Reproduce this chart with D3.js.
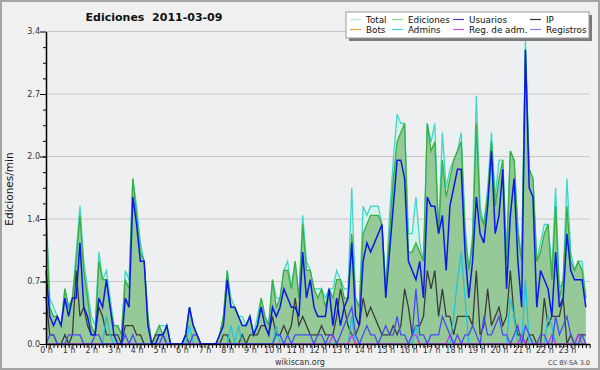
<!DOCTYPE html>
<html><head><meta charset="utf-8">
<script src="https://cdn.jsdelivr.net/npm/d3@7"></script>
<style>html,body{margin:0;padding:0;background:#f0f0f0;} svg{display:block;}</style>
</head><body><svg id="c" width="600" height="370"></svg>
<script>
// ---- data (edits per minute, 10-minute buckets, 144 per day) ----
const chartTitle = "Ediciones  2011-03-09";
const yLabel = "Ediciones/min";
const hourLabels = d3.range(24).map(h => h + " h");
const yTickValues = [0, 0.68, 1.36, 2.04, 2.72, 3.4];
const seriesNames = ["Total","Ediciones","Usuarios","IP","Bots","Admins","Reg. de adm.","Registros"];

const total = [1.5,0.5,0.4,0.3,0.2,0.6,0.4,0.5,1.0,1.5,0.9,0.6,0.3,0.2,1.0,0.7,0.8,0.5,0.2,0.2,
0.1,0.8,0.7,1.8,1.5,1.1,0.9,0.3,0,0.1,0.2,0.2,0.2,0,0,0,0,0.1,0.4,0.2,
0.1,0,0,0,0,0,0.1,0.3,0.8,0.5,0.4,0.3,0.3,0.2,0.3,0.1,0.3,0.5,0.3,0.2,
0.7,0.5,0.5,0.8,0.9,0.6,0.9,0.5,1.4,0.9,0.8,0.6,0.6,0.6,0.5,0.6,0.6,0.8,0.7,0.6,
0.6,1.7,0.5,0.4,1.5,1.4,1.5,1.5,1.5,1.3,0.6,1.4,2.0,2.5,2.4,2.4,1.2,1.2,1.6,1.1,
0.9,2.4,2.2,2.4,1.2,2.3,1.7,1.9,2.0,2.1,2.3,1.3,0.8,1.2,2.7,1.5,1.3,1.7,2.3,1.6,
2.0,2.0,1.0,2.1,2.0,1.3,0.9,3.3,1.9,1.8,0.9,1.1,1.3,1.3,0.8,1.7,0.6,0.7,1.8,1.0,
0.8,0.9,0.9,0.5];
const ediciones = [1.4,0.4,0.3,0.3,0.2,0.6,0.4,0.5,0.9,1.4,0.8,0.5,0.2,0.1,0.9,0.7,0.7,0.4,0.2,0.2,
0.1,0.7,0.6,1.8,1.4,1.0,0.9,0.3,0,0.1,0.2,0.1,0.2,0,0,0,0,0.1,0.4,0.2,
0.1,0,0,0,0,0,0.1,0.3,0.8,0.4,0.4,0.3,0.2,0.2,0.3,0.1,0.2,0.5,0.3,0.2,
0.7,0.4,0.5,0.8,0.8,0.6,0.9,0.5,1.3,0.8,0.8,0.6,0.5,0.6,0.4,0.6,0.5,0.7,0.7,0.5,
0.5,1.2,0.5,0.4,1.2,1.3,1.4,1.4,1.4,1.3,0.6,1.2,1.8,2.2,2.3,2.4,1.0,1.0,1.1,1.0,
0.9,2.4,2.1,2.2,1.2,2.0,1.6,1.8,2.0,2.1,2.2,1.2,0.8,1.1,2.4,1.4,1.3,1.6,2.2,1.5,
1.8,2.0,0.9,2.1,2.0,1.2,0.9,3.2,1.9,1.8,0.9,1.0,1.2,1.3,0.7,1.5,0.5,0.7,1.5,0.9,
0.8,0.9,0.8,0.5];
const usuarios = [0.8,0.3,0.2,0.3,0.2,0.5,0.3,0.5,0.5,1.1,0.4,0.3,0.1,0.1,0.5,0.4,0.7,0.4,0.1,0,
0,0.5,0.4,1.6,1.3,0.9,0.9,0.2,0,0,0.1,0.1,0.2,0,0,0,0,0.1,0.4,0.2,
0.1,0,0,0,0,0,0.1,0.2,0.7,0.4,0.4,0.3,0.2,0.2,0.3,0.1,0.2,0.4,0.2,0.1,
0.4,0.3,0.4,0.6,0.5,0.4,0.4,0.3,1.0,0.5,0.7,0.4,0.3,0.3,0.3,0.6,0.2,0.5,0.2,0.4,
0.5,1.1,0.3,0.2,0.9,1.1,1.0,1.1,1.2,1.3,0.5,1.0,1.5,2.0,2.0,1.8,0.9,0.8,0.7,0.9,
0.5,1.6,1.5,1.5,1.2,1.4,0.8,1.5,1.7,1.9,1.9,1.0,0.5,0.9,1.6,1.2,1.1,1.5,2.1,1.2,
1.4,1.9,0.6,1.4,1.8,0.9,0.4,3.2,1.7,1.6,0.4,0.8,0.7,0.6,0.3,1.0,0.4,0.5,1.2,0.8,
0.7,0.7,0.7,0.4];
const ip = [0.5,0.1,0.1,0,0,0.1,0,0.1,0.8,0.3,0.4,0.2,0.1,0.1,0.4,0.3,0.1,0.1,0.1,0.1,
0,0.2,0.2,0.2,0.1,0.1,0,0,0,0.1,0.1,0.1,0,0,0,0,0,0.1,0,0,
0,0,0,0,0,0,0,0.1,0.1,0,0,0,0.1,0,0.1,0.1,0.1,0.2,0.2,0.1,
0.3,0.1,0.1,0.2,0.1,0.2,0.5,0.2,0.3,0.2,0.1,0.1,0.1,0.2,0.1,0.1,0.1,0.3,0.6,0.4,
0.2,0.1,0.1,0.2,0.5,0.3,0.4,0.3,0.2,0.1,0.1,0.1,0.2,0.1,0.2,0.6,0.4,0.1,0.2,0.2,
0.3,0.8,0.6,0.8,0.3,0.6,0.3,0.3,0.1,0.3,0.3,0.3,0.3,0.2,0.8,0.1,0.2,0.6,0.2,0.3,
0.4,0.2,0.3,0.8,0.3,0.1,0.1,0,0.1,0.1,0,0,0.5,0.2,0.3,0.3,0.3,0.5,0,0.1,
0,0.1,0.1,0.1];
const bots = d3.range(144).map(() => 0);
const admins = [0,0,0,0,0,0,0,0,0,0,0,0,0,0,0,0,0.3,0.1,0,0,
0,0,0,0,0,0,0,0,0,0,0,0,0,0,0,0,0,0,0.2,0,
0,0,0,0,0,0,0,0,0,0.2,0,0.2,0,0,0,0,0,0,0,0,
0,0.2,0,0,0,0,0,0,0,0,0,0,0,0,0,0,0,0,0,0,
0,0.3,0,0,0,0,0,0,0,0,0,0,0,0,0,0,0,0,0.2,0,
0,0,0,0,0,0,0,0,0.3,0.7,1.0,0.5,0,0,0,0,0,0,0,0,
0,0,0,0.5,0.3,0,0,0.7,0,0,0,0,0,0.3,0.2,0,0,0,0,0,
0,0,0,0];
const regAdm = [0,0,0,0,0,0,0,0,0,0,0,0,0,0,0,0,0,0,0,0,
0,0,0,0,0,0,0,0,0,0,0,0,0,0,0,0,0,0,0,0,
0,0,0,0,0,0,0,0,0,0,0,0,0,0,0,0,0,0,0,0,
0,0,0,0,0,0,0,0,0,0,0,0,0,0,0,0,0.1,0,0,0,
0,0.1,0,0,0,0,0,0,0,0,0,0,0,0,0,0,0,0.1,0.1,0,
0,0,0,0,0,0,0,0.1,0,0,0,0,0,0,0,0,0,0,0,0,
0,0,0,0,0,0,0.1,0,0,0,0,0,0,0,0.1,0,0,0,0,0,
0,0.1,0,0];
const registros = [0,0.1,0.1,0,0,0,0.1,0.1,0.1,0.1,0,0,0,0.1,0.1,0,0,0,0,0,
0,0.1,0,0.1,0,0,0,0,0,0,0,0.1,0,0,0,0,0,0,0,0.1,
0.1,0,0,0,0,0,0,0,0,0,0,0,0,0,0,0,0,0,0,0,
0,0.1,0.1,0,0.1,0,0.1,0.1,0.1,0.1,0.1,0,0.1,0.1,0,0.1,0.1,0,0.1,0.2,
0.3,0.4,0.1,0,0.1,0.2,0.1,0.1,0,0.1,0.2,0.1,0.1,0.3,0.1,0.1,0,0.1,0.6,0.1,
0.1,0,0.1,0.1,0.1,0.3,0.2,0.1,0,0.1,0,0.1,0.1,0.2,0.1,0,0.3,0.1,0.1,0.2,
0.3,0.1,0.1,0,0.1,0.2,0,0.2,0.1,0,0,0.1,0.1,0,0,0.3,0.1,0.2,0.3,0.1,
0,0,0.1,0];

// ---- styles ----
const lineColors = {"Total":"#3fd8c8","Ediciones":"#3aae3e","Usuarios":"#0c18e8","IP":"#3c3c3c",
  "Bots":"#f0a030","Admins":"#22c4dc","Reg. de adm.":"#c83ae0","Registros":"#4a4af4"};
const legendColors = {"Total":"#b0ece4","Ediciones":"#90d490","Usuarios":"#3c3ce4","IP":"#333333",
  "Bots":"#f0a040","Admins":"#48c8d8","Reg. de adm.":"#d050e0","Registros":"#8080f0"};
const seriesData = {"Total":total,"Ediciones":ediciones,"Usuarios":usuarios,"IP":ip,"Bots":bots,
  "Admins":admins,"Reg. de adm.":regAdm,"Registros":registros};

const svg = d3.select("#c");
const W = 600, H = 370;
const L = 46, R = 589.6, T = 31.5, B = 344;

svg.append("rect").attr("x",0).attr("y",0).attr("width",W).attr("height",H).attr("fill","#f0f0f0");
svg.append("rect").attr("x",1).attr("y",1).attr("width",W-2).attr("height",H-2)
  .attr("fill","none").attr("stroke","#a4a4a4").attr("stroke-width",2);
svg.append("rect").attr("x",L).attr("y",T).attr("width",R-L).attr("height",B-T).attr("fill","#edeff1");

const x = d3.scaleLinear().domain([0,144]).range([L,R]);
const y = d3.scaleLinear().domain([0,3.4]).range([B,T]);

// gridlines
svg.append("g").selectAll("line").data(yTickValues.filter(v => v > 0)).join("line")
  .attr("x1",L).attr("x2",R).attr("y1",d=>y(d)).attr("y2",d=>y(d))
  .attr("stroke","#c8c8c8").attr("stroke-width",1);

const idx = d3.range(144);
const area = arr => d3.area().x(i=>x(i)).y0(B).y1(i=>y(arr[i]))(idx);
const line = arr => d3.line().x(i=>x(i)).y(i=>y(arr[i]))(idx);

svg.append("path").attr("d",area(total)).attr("fill","#d6f1ea");
svg.append("path").attr("d",area(ediciones)).attr("fill","#95c997");

const drawOrder = ["Total","Ediciones","Bots","IP","Admins","Reg. de adm.","Registros","Usuarios"];
drawOrder.forEach(n => {
  svg.append("path").attr("d",line(seriesData[n])).attr("fill","none")
    .attr("stroke",lineColors[n]).attr("stroke-width",n==="Usuarios"?1.5:1.3)
    .attr("stroke-linejoin","miter");
});

// axes
const font = "DejaVu Sans, sans-serif";
const yAxis = svg.append("g").attr("transform",`translate(${L},0)`)
  .call(d3.axisLeft(y).tickValues(yTickValues).tickFormat(d3.format(".1f")).tickSize(6).tickSizeOuter(0));
const yMinor = svg.append("g").attr("transform",`translate(${L},0)`)
  .call(d3.axisLeft(y).tickValues(d3.range(0,20).map(k=>k*0.17)).tickFormat("").tickSize(3).tickSizeOuter(0));
yMinor.select(".domain").remove();
yAxis.select(".domain").attr("stroke","#000").attr("stroke-width",1.5);
yAxis.selectAll(".tick line").attr("stroke","#000");
yMinor.selectAll(".tick line").attr("stroke","#000");
yAxis.selectAll(".tick text").attr("font-family",font).attr("font-size",8).attr("fill","#333").attr("x",-6).attr("dy","0.3em");

const xMinor = svg.append("g").attr("transform",`translate(0,${B})`)
  .call(d3.axisBottom(x).tickValues(d3.range(0,145)).tickFormat("").tickSize(4).tickSizeOuter(0));
xMinor.select(".domain").attr("stroke","#000").attr("stroke-width",1.5);
xMinor.selectAll(".tick line").attr("stroke","#000");
const xAxis = svg.append("g").attr("transform",`translate(0,${B})`)
  .call(d3.axisBottom(x).tickValues(d3.range(0,24).map(h=>h*6)).tickFormat((d,i)=>hourLabels[i]).tickSize(0));
xAxis.select(".domain").remove();
xAxis.selectAll(".tick text").attr("font-family",font).attr("font-size",8).attr("fill","#333").attr("y",3).attr("dy","0.71em");

// title and labels
svg.append("text").attr("x",154).attr("y",21).attr("text-anchor","middle").style("white-space","pre")
  .attr("font-family",font).attr("font-size",11).attr("font-weight","bold").attr("fill","#111").text(chartTitle);
svg.append("text").attr("transform","translate(13,189) rotate(-90)").attr("text-anchor","middle")
  .attr("font-family",font).attr("font-size",10.5).attr("fill","#111").text(yLabel);
svg.append("text").attr("x",300).attr("y",365).attr("text-anchor","middle")
  .attr("font-family",font).attr("font-size",8).attr("fill","#333").text("wikiscan.org");
svg.append("text").attr("x",590).attr("y",365).attr("text-anchor","end")
  .attr("font-family",font).attr("font-size",6.5).attr("fill","#444").text("CC BY-SA 3.0");

// legend
const lg = svg.append("g");
lg.append("rect").attr("x",349).attr("y",15).attr("width",243).attr("height",26).attr("fill","#7a7a7a");
lg.append("rect").attr("x",346).attr("y",12).attr("width",243).attr("height",26).attr("fill","#fff").attr("stroke","#999").attr("stroke-width",1);
const colX = [350,392,453,530];
seriesNames.forEach((n,k) => {
  const cx = colX[k%4], cy = k<4 ? 19.5 : 29.5;
  lg.append("line").attr("x1",cx).attr("x2",cx+11).attr("y1",cy).attr("y2",cy)
    .attr("stroke",legendColors[n]).attr("stroke-width",1.2);
  lg.append("text").attr("x",cx+16).attr("y",cy+3.5).attr("font-family",font).attr("font-size",8.8)
    .attr("fill","#111").text(n);
});
</script></body></html>
